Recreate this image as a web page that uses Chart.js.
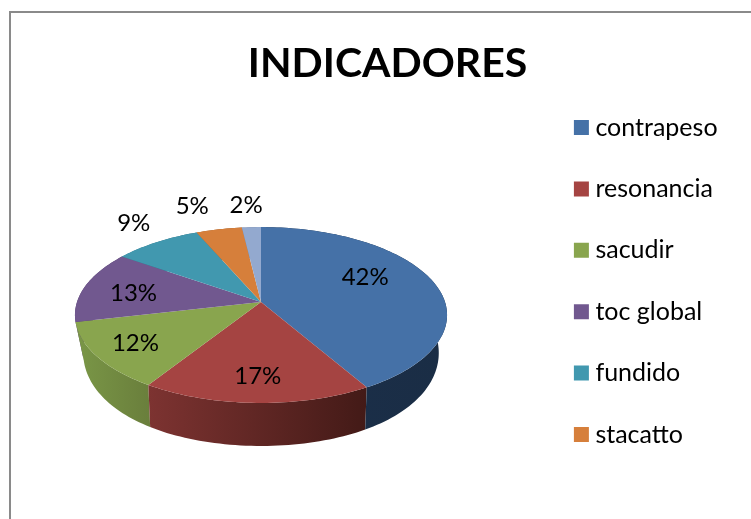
<!DOCTYPE html>
<html>
<head>
<meta charset="utf-8">
<style>
    html, body { margin: 0; padding: 0; background: #fff; overflow: hidden; }
    #frame { position: absolute; left: 9px; top: 11px; width: 800px; height: 600px; border-left: 2px solid #8a8a8a; border-top: 2px solid #8a8a8a; }
    #chart { position: absolute; left: 0; top: 0; }
</style>
<script src="https://cdn.jsdelivr.net/npm/chart.js@4"></script>
</head>
<body>
<div id="frame"></div>
<canvas id="chart" width="751" height="519"></canvas>
<script>
// Data
const categories = ["contrapeso", "resonancia", "sacudir", "toc global", "fundido", "stacatto", "otros"];
const values = [41.65, 17.35, 12.4, 13.3, 8.8, 4.6, 1.9];

// Colors
const topColors = ["#4571A7", "#A54442", "#89A54E", "#71588F", "#4198AF", "#D67F3B", "#93A9CF"];
const wallLeft = ["#1b2f4a", "#7d3331", "#7a9747", "#5a4672", "#337a8c", "#ab652f", "#7687a5"];
const wallRight = ["#1a2d45", "#431a17", "#6a7f3c", "#4a3a60", "#2a6070", "#8a5126", "#5f6d85"];

// Label placement: fraction of the radius, extra y shift
const labelPlace = [[0.6, -12], [0.76, 1], [0.78, 0], [0.72, 3], [1.25, -6], [1.8, 23], [1.7, 20]];

// Tilted pie
const TILT = 0.148;
const SQUASH = 86 / 184;
const WALL_NARROW = 8;

function project(arc, angle, r = 1) {
    const u = Math.cos(angle) * r;
    const v = Math.sin(angle) * r;
    const w = 1 - TILT * v;
    return {
        x: arc.x + (arc.outerRadius * u) / w,
        y: arc.y + (arc.outerRadius * SQUASH * v) / w,
        v: v,
    };
}

function wallPoint(arc, p) {
    const off = (p.x - arc.x) / arc.outerRadius;
    return {
        x: p.x - WALL_NARROW * off * off * off,
        y: p.y + 37 + 6 * p.v,
    };
}

function arcPoints(arc) {
    const pts = [];
    const steps = Math.max(4, Math.ceil((arc.endAngle - arc.startAngle) * 40));
    for (let i = 0; i <= steps; i++) {
        pts.push(project(arc, arc.startAngle + ((arc.endAngle - arc.startAngle) * i) / steps));
    }
    return pts;
}

const pie3d = {
    id: "pie3d",
    afterLayout(chart) {
        // Pie and legend sit where the reference has them
        chart.chartArea = { left: 77, right: 445, top: 118, bottom: 486, width: 368, height: 368 };
        const legend = chart.legend;
        const h = legend.height;
        legend.left = 543.5;
        legend.right = 543.5 + legend.width;
        legend.top = 78.6;
        legend.bottom = 78.6 + h;
    },
    beforeDatasetsDraw(chart) {
        const ctx = chart.ctx;
        const arcs = chart.getDatasetMeta(0).data;

        // Walls, last slice first
        for (let i = arcs.length - 1; i >= 0; i--) {
            const pts = arcPoints(arcs[i]);
            const bottom = pts.map((p) => wallPoint(arcs[i], p)).reverse();
            const xs = pts.map((p) => p.x);
            const grad = ctx.createLinearGradient(Math.min(...xs), 0, Math.max(...xs), 0);
            grad.addColorStop(0, wallLeft[i]);
            grad.addColorStop(1, wallRight[i]);
            ctx.beginPath();
            pts.concat(bottom).forEach((p, n) => (n ? ctx.lineTo(p.x, p.y) : ctx.moveTo(p.x, p.y)));
            ctx.closePath();
            ctx.fillStyle = grad;
            ctx.fill();
        }

        // Top face
        arcs.forEach((arc, i) => {
            ctx.beginPath();
            ctx.moveTo(arc.x, arc.y);
            arcPoints(arc).forEach((p) => ctx.lineTo(p.x, p.y));
            ctx.closePath();
            ctx.fillStyle = topColors[i];
            ctx.fill();
        });

        // Percent labels
        const total = values.reduce((a, b) => a + b, 0);
        ctx.font = "24px Lato";
        ctx.fillStyle = "#000";
        ctx.textAlign = "center";
        ctx.textBaseline = "middle";
        arcs.forEach((arc, i) => {
            const mid = (arc.startAngle + arc.endAngle) / 2;
            const p = project(arc, mid, labelPlace[i][0]);
            ctx.fillText(Math.round((values[i] / total) * 100) + "%", p.x, p.y + labelPlace[i][1]);
        });
        return false;
    },
};

new Chart(document.getElementById("chart"), {
    type: "pie",
    data: {
        labels: categories,
        datasets: [
            {
                data: values,
                backgroundColor: topColors,
                borderWidth: 0,
            },
        ],
    },
    options: {
        responsive: false,
        animation: false,
        layout: { padding: { left: 24 } },
        plugins: {
            title: {
                display: true,
                text: "INDICADORES",
                color: "#000",
                font: { family: "Lato", size: 41, weight: "bold" },
                padding: { top: 39, bottom: 10 },
            },
            legend: {
                position: "right",
                align: "start",
                labels: {
                    color: "#000",
                    font: { family: "Lato", size: 25 },
                    usePointStyle: true,
                    pointStyle: "rect",
                    boxWidth: 3,
                    boxHeight: 15,
                    padding: 36.4,
                    filter: (item) => item.index < 6,
                },
            },
            tooltip: { enabled: false },
        },
    },
    plugins: [pie3d],
});
</script>
</body>
</html>
